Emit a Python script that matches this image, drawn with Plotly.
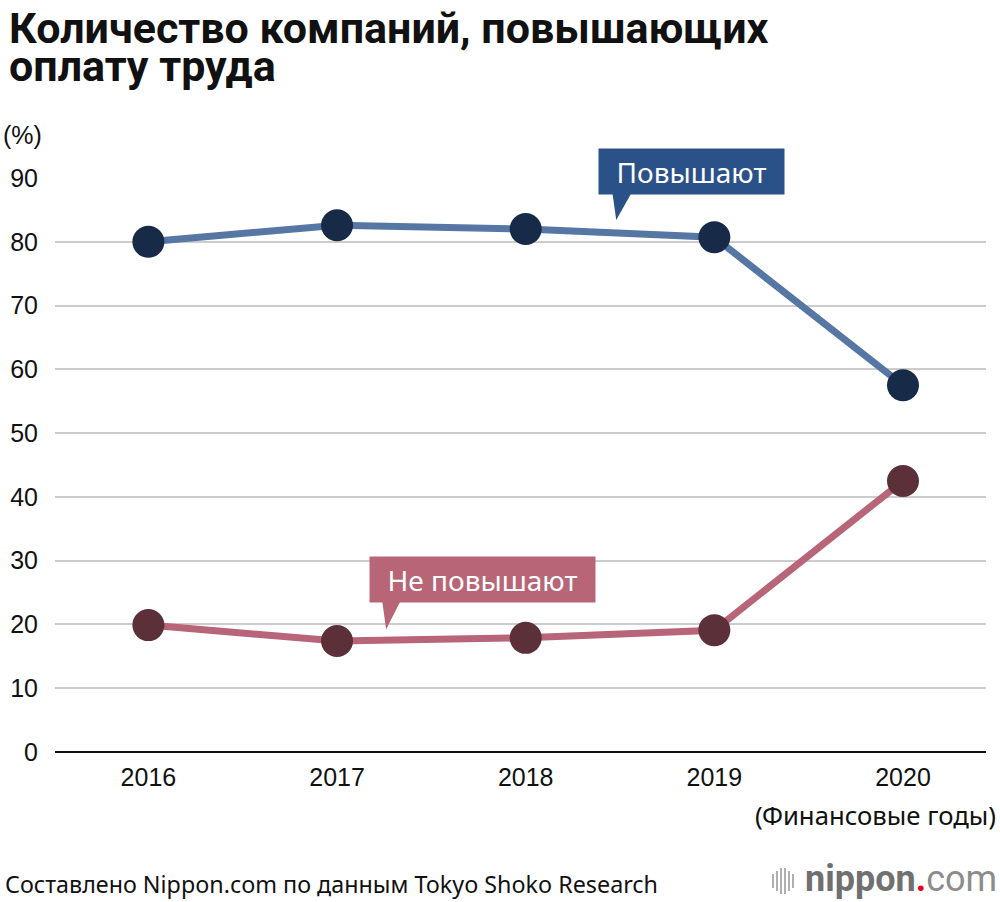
import plotly.graph_objects as go

years = ["2016", "2017", "2018", "2019", "2020"]
raise_pct = [80.0, 82.6, 82.0, 80.7, 57.5]
no_raise_pct = [19.9, 17.4, 17.9, 19.1, 42.5]
y_ticks = [0, 10, 20, 30, 40, 50, 60, 70, 80, 90]

xs = list(range(len(years)))

# plot-area geometry (pixels) used to place decorations in paper coords
L, R, T, B = 55, 986, 178, 752
W, H = R - L, B - T


def px(x):
    return (x - L) / W


def py(y):
    return (B - y) / H


fig = go.Figure()
fig.add_trace(go.Scatter(
    x=xs, y=raise_pct, mode="lines+markers",
    line=dict(color="#5677A3", width=7),
    marker=dict(color="#172B49", size=32),
    cliponaxis=False, hoverinfo="skip"))
fig.add_trace(go.Scatter(
    x=xs, y=no_raise_pct, mode="lines+markers",
    line=dict(color="#B86479", width=7),
    marker=dict(color="#5C3039", size=32),
    cliponaxis=False, hoverinfo="skip"))

blue_box = "#2B5189"
red_box = "#B76577"

# callout pointers
fig.add_shape(type="path", xref="x", yref="y",
              path="M 2.46 87.6 L 2.56 87.6 L 2.48 83.4 Z",
              fillcolor=blue_box, line=dict(width=0))
fig.add_shape(type="path", xref="x", yref="y",
              path="M 1.24 23.6 L 1.335 23.6 L 1.26 19.2 Z",
              fillcolor=red_box, line=dict(width=0))

fig.add_annotation(x=2.88, y=py(171.5), xref="x", yref="paper", text="Повышают",
                   xanchor="center", yanchor="middle",
                   showarrow=False, bgcolor=blue_box, width=173, height=33,
                   borderpad=6,
                   font=dict(family="Noto Sans", size=28, color="white"))
fig.add_annotation(x=1.77, y=27.05, xref="x", yref="y", text="Не повышают",
                   xanchor="center", yanchor="middle",
                   showarrow=False, bgcolor=red_box, width=213, height=33,
                   borderpad=6,
                   font=dict(family="Noto Sans", size=28, color="white"))

# title (two lines)
fig.add_annotation(x=px(7), y=py(28), xref="paper", yref="paper",
                   xanchor="left", yanchor="middle",
                   text="<b>Количество компаний, повышающих</b>",
                   showarrow=False,
                   font=dict(family="Roboto", size=43, color="#111111"))
fig.add_annotation(x=px(7), y=py(66), xref="paper", yref="paper",
                   xanchor="left", yanchor="middle",
                   text="<b>оплату труда</b>",
                   showarrow=False,
                   font=dict(family="Roboto", size=43, color="#111111"))
# y unit
fig.add_annotation(x=px(1), y=py(135), xref="paper", yref="paper",
                   xanchor="left", yanchor="middle",
                   text="(%)", showarrow=False,
                   font=dict(family="Liberation Sans", size=25, color="#111111"))
fig.add_annotation(x=px(998), y=py(815), xref="paper", yref="paper",
                   xanchor="right", yanchor="middle",
                   text="(Финансовые годы)", showarrow=False,
                   font=dict(family="Noto Sans", size=25.7, color="#111111"))
# source
fig.add_annotation(x=px(3), y=py(884), xref="paper", yref="paper",
                   xanchor="left", yanchor="middle",
                   text="Составлено Nippon.com по данным Tokyo Shoko Research",
                   showarrow=False,
                   font=dict(family="Noto Sans", size=23.3, color="#111111"))
fig.add_annotation(x=px(999), y=py(879), xref="paper", yref="paper",
                   xanchor="right", yanchor="middle",
                   text="<span style='color:#707070'><b>nippon</b></span>"
                        "<span style='color:#E60012'><b>.</b></span>"
                        "<span style='color:#8c8c8c'>com</span>",
                   showarrow=False,
                   font=dict(family="Roboto", size=36))
# logo bars
bar_px = [772, 776, 780, 784, 788, 792]
bar_len = [14, 20, 26, 26, 20, 14]
for bx, bh in zip(bar_px, bar_len):
    fig.add_shape(type="rect", xref="paper", yref="paper",
                  x0=px(bx), x1=px(bx + 2), y0=py(881 + bh / 2), y1=py(881 - bh / 2),
                  fillcolor="#b0b0b0", line=dict(width=0))

fig.update_layout(
    width=1000, height=902,
    margin=dict(l=L, r=1000 - R, t=T, b=902 - B, autoexpand=False),
    paper_bgcolor="white", plot_bgcolor="white",
    showlegend=False,
    xaxis=dict(range=[-0.495, 4.44], tickvals=xs, ticktext=years,
               showgrid=False, zeroline=False, showline=False,
               ticks="", ticklabelstandoff=8,
               tickfont=dict(family="Liberation Sans", size=25, color="#111111")),
    yaxis=dict(range=[0, 90], tickvals=y_ticks, showgrid=True,
               gridcolor="#CCCCCC", gridwidth=2,
               zeroline=True, zerolinecolor="#111111", zerolinewidth=2,
               showline=False, ticks="", ticklabelstandoff=16,
               tickfont=dict(family="Liberation Sans", size=25, color="#111111")),
)

fig.write_html("out.html",
               config={"displayModeBar": False},
               post_script="document.body.style.margin='0';"
                           "document.body.style.overflow='hidden';")
